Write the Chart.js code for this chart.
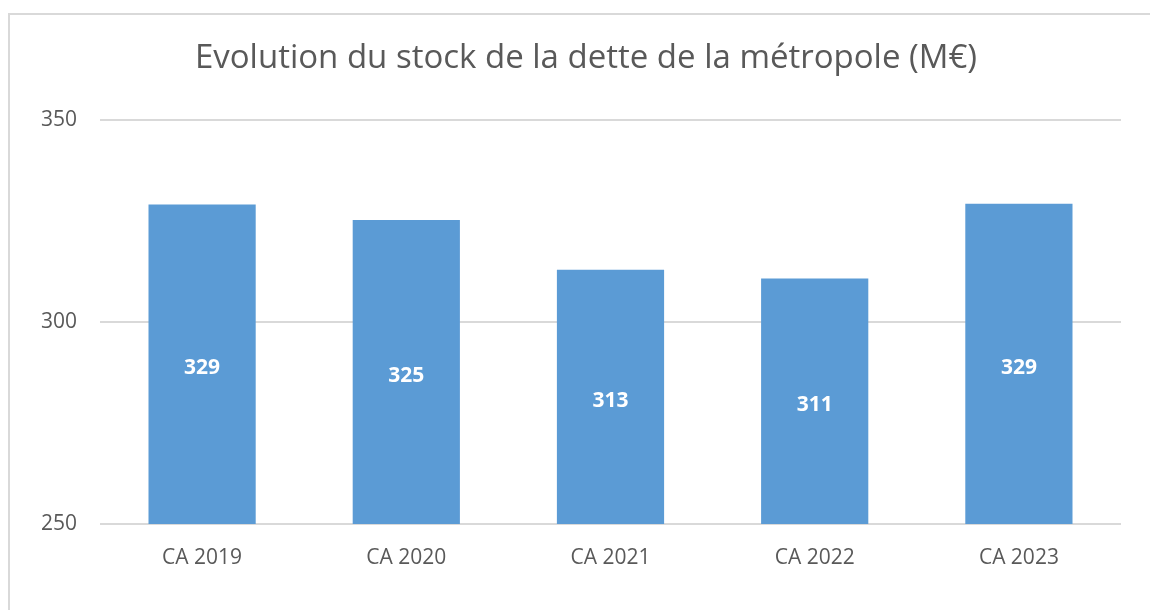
<!DOCTYPE html>
<html>
<head>
<meta charset="utf-8">
<script src="https://cdn.jsdelivr.net/npm/chart.js@4"></script>
<style>
  body { margin: 0; background: #fff; overflow: hidden; }
  .cadre { position: absolute; left: 8px; top: 13px; width: 1200px; height: 700px;
           border-left: 2px solid #d9d9d9; border-top: 2px solid #d9d9d9; }
  .zone { position: absolute; left: 0; top: 0; width: 1172px; height: 610px; }
</style>
</head>
<body>
<div class="cadre"></div>
<div class="zone"><canvas id="detteChart" width="1172" height="610"></canvas></div>
<script>
// Données
const annees = ['CA 2019', 'CA 2020', 'CA 2021', 'CA 2022', 'CA 2023'];
const stockDette = [329.0, 325.2, 312.9, 310.7, 329.2];
const graduations = [250, 300, 350];

// Étiquettes blanches au milieu des barres
const etiquettesBarres = {
  id: 'etiquettesBarres',
  afterDatasetsDraw(chart) {
    const c = chart.ctx;
    const sx = chart.scales.x, sy = chart.scales.y;
    c.save();
    c.fillStyle = '#ffffff';
    c.font = 'bold 21px "Open Sans"';
    c.textAlign = 'center';
    c.textBaseline = 'middle';
    stockDette.forEach(function(v, i) {
      const x = sx.getPixelForValue(i);
      const y = (sy.getPixelForValue(v) + sy.getPixelForValue(sy.min)) / 2 + 4;
      c.fillText(String(Math.round(v)), x, y);
    });
    c.restore();
  }
};

const ctx = document.getElementById('detteChart').getContext('2d');
const detteChart = new Chart(ctx, {
  type: 'bar',
  data: {
    labels: annees,
    datasets: [{
      label: 'Stock de la dette',
      data: stockDette,
      backgroundColor: '#5b9bd5',
      barPercentage: 0.525,
      categoryPercentage: 1
    }]
  },
  options: {
    responsive: false,
    animation: false,
    plugins: {
      legend: { display: false },
      tooltip: { enabled: false },
      title: {
        display: true,
        text: 'Evolution du stock de la dette de la métropole (M€)',
        color: '#595959',
        font: { family: 'Open Sans', size: 33, weight: 'normal' },
        padding: { top: 39, bottom: 41 }
      }
    },
    scales: {
      x: {
        afterFit: function(s) { s.height = 86; },
        grid: { display: false },
        border: { display: false },
        ticks: { color: '#595959', font: { family: 'Open Sans', size: 21 }, padding: 13 }
      },
      y: {
        min: 250,
        max: 350,
        afterFit: function(s) { s.width = 100; },
        afterBuildTicks: function(s) { s.ticks = graduations.map(v => ({ value: v })); },
        grid: { color: '#d9d9d9', lineWidth: 2, drawTicks: false },
        border: { display: false },
        ticks: { color: '#595959', font: { family: 'Open Sans', size: 21 }, padding: 23 }
      },
      // axe vide à droite pour garder la marge
      marge: {
        type: 'linear',
        position: 'right',
        afterFit: function(s) { s.width = 51; },
        grid: { display: false },
        border: { display: false },
        ticks: { display: false }
      }
    }
  },
  plugins: [etiquettesBarres]
});
</script>
</body>
</html>
